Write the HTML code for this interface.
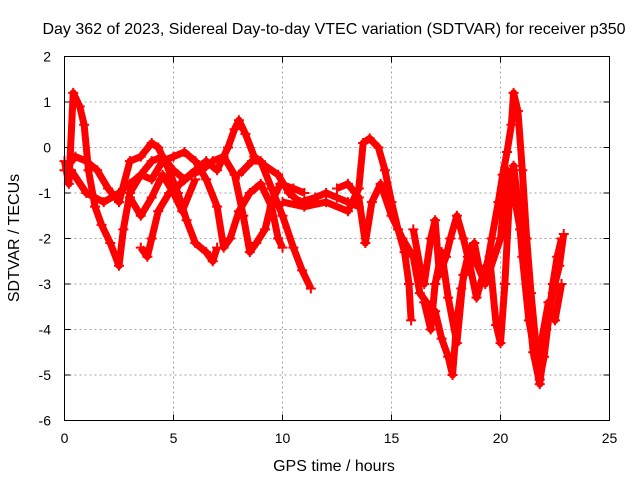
<!DOCTYPE html>
<html><head><meta charset="utf-8"><style>
body{margin:0;background:#fff;}
svg text{font-family:"Liberation Sans",sans-serif;font-size:14px;fill:#000;}
svg text.big{font-size:16px;}
</style></head><body>
<svg id="chart" width="640" height="480" xmlns="http://www.w3.org/2000/svg">
<text class="big" x="334" y="34" text-anchor="middle">Day 362 of 2023, Sidereal Day-to-day VTEC variation (SDTVAR) for receiver p350</text>
<text class="big" x="334" y="471" text-anchor="middle">GPS time / hours</text>
<text class="big" transform="translate(19,238) rotate(-90)" text-anchor="middle">SDTVAR / TECUs</text>
<g id="grid"></g>
<g id="ticks"></g>
<g id="series"></g>
<rect x="64.5" y="56.5" width="545" height="364" fill="none" stroke="#000" stroke-width="1"/>
</svg>
<script>
const xTicks=[0,5,10,15,20,25];
const yTicks=[2,1,0,-1,-2,-3,-4,-5,-6];
const trackA=[[0,-0.3],[0.2,-0.8],[0.4,1.2],[0.7,0.9],[0.9,0.5],[1.1,-0.5],[1.4,-1.3],[1.7,-1.7],[2.1,-2.1],[2.5,-2.6],[2.7,-1.8],[3.0,-1.0],[3.5,-0.6],[4.0,-0.3],[4.5,-0.2],[5.0,-0.5],[5.5,-0.7],[6.0,-0.5],[6.5,-0.3],[7.0,-0.5],[7.5,0.0],[7.8,0.4],[8.0,0.6],[8.3,0.3],[8.7,-0.2],[9.2,-0.4],[9.8,-0.6],[10.3,-1.0],[10.8,-1.2],[11.5,-1.1],[12.0,-1.0],[12.5,-1.1],[13.0,-1.2],[13.5,-1.3]];
const trackB=[[0,-0.5],[0.5,-0.2],[1.0,-0.3],[1.5,-0.5],[2.0,-0.9],[2.5,-1.2],[3.0,-0.3],[3.5,-0.2],[4.0,0.1],[4.3,0.0],[4.7,-0.4],[5.2,-1.0],[5.6,-1.6],[6.0,-2.1],[6.5,-2.3],[6.8,-2.5],[7.0,-2.2]];
const trackC=[[0.3,-0.5],[1.0,-1.0],[1.8,-1.2],[2.5,-1.0],[3.0,-0.8],[3.5,-0.6],[4.0,-0.7],[4.5,-0.3],[5.0,-0.2],[5.5,-0.1],[6.0,-0.3],[6.5,-0.7],[7.0,-1.3],[7.3,-2.2],[7.6,-2.0],[8.0,-1.4],[8.5,-1.0],[9.0,-0.8],[9.5,-1.3],[9.8,-2.0],[10.0,-2.2]];
const trackD=[[3.5,-2.2],[3.8,-2.4],[4.0,-2.0],[4.3,-1.4],[4.8,-1.0],[5.3,-0.8],[5.8,-0.6],[6.3,-0.5],[6.8,-0.3],[7.3,-0.2],[7.8,-0.6],[8.2,-1.5],[8.5,-2.3],[8.8,-2.1],[9.2,-1.8],[9.5,-1.2],[9.9,-0.8],[10.5,-0.9],[11.0,-1.0]];
const trackE=[[8.0,-0.6],[8.6,-0.3],[9.0,-0.3],[9.5,-0.9],[10.0,-1.5],[10.5,-2.2],[10.9,-2.7],[11.3,-3.1]];
const trackF=[[3.0,-1.1],[3.5,-1.5],[4.0,-1.1],[4.5,-0.6],[5.0,-1.0],[5.4,-1.4],[6.0,-0.7]];
const trackG=[[10.0,-1.2],[11,-1.3],[12,-1.2],[13,-1.4],[13.5,-0.9],[13.7,0.1],[14.0,0.2],[14.4,0.0],[14.7,-0.5],[15.0,-1.2],[15.3,-1.8],[15.6,-2.3],[15.8,-3.0],[15.9,-3.8]];
const trackH=[[12.5,-0.9],[13.0,-0.8],[13.5,-1.1],[13.8,-2.1],[14.1,-1.2],[14.5,-0.8],[15.0,-1.5],[15.5,-2.0],[16.0,-2.4],[16.3,-3.2],[16.6,-3.4],[17.0,-3.6],[17.3,-4.2],[17.6,-4.6],[17.8,-5.0],[18.0,-3.8],[18.2,-3.1],[18.5,-2.4],[18.8,-2.1],[19.0,-2.6],[19.3,-2.8],[19.6,-2.0],[19.9,-1.2],[20.1,-0.6],[20.3,-0.1],[20.5,0.5],[20.6,1.2],[20.8,0.8],[21.0,-0.5],[21.2,-2.0],[21.4,-3.2],[21.6,-4.2],[21.8,-5.1],[22.0,-4.6],[22.2,-3.8],[22.4,-3.0],[22.6,-2.4],[22.8,-2.0]];
const trackI=[[16.0,-1.8],[16.3,-2.6],[16.5,-3.0],[16.8,-2.0],[17.0,-1.6],[17.2,-2.8],[17.5,-2.4],[17.7,-2.0],[18.0,-1.5],[18.3,-2.0],[18.6,-2.6],[18.9,-3.3],[19.2,-2.8],[19.5,-2.4],[19.8,-3.9],[20.0,-4.3],[20.2,-3.0],[20.4,-1.2],[20.6,-0.4],[20.8,-1.2],[21.0,-2.4],[21.3,-3.8],[21.6,-4.6],[21.9,-4.2],[22.2,-3.4],[22.5,-3.8],[22.8,-3.0]];
const trackJ=[[16.5,-3.4],[16.8,-4.0],[17.0,-3.0],[17.3,-2.3],[17.6,-3.3],[18.0,-4.3],[18.3,-2.8],[18.6,-2.2],[19.3,-3.0],[20.0,-2.0],[20.3,-0.5],[20.6,-1.0],[20.9,-1.8],[21.2,-3.0],[21.5,-4.5],[21.8,-5.2],[22.1,-4.0],[22.4,-3.2],[22.7,-2.6],[22.9,-1.9]];
const tracks=[trackA,trackB,trackC,trackD,trackE,trackF,trackG,trackH,trackI,trackJ];

const X0=64.5,X1=609.5,Y0=420.5,Y1=56.5;
function sx(t){return X0+(t-0)/(25-0)*(X1-X0);}
function sy(v){return Y0-(v-(-6))/(2-(-6))*(Y0-Y1);}
const NS="http://www.w3.org/2000/svg";
function mk(tag,attrs,parent){const e=document.createElementNS(NS,tag);for(const k in attrs)e.setAttribute(k,attrs[k]);parent.appendChild(e);return e;}
const grid=document.getElementById('grid'),ticks=document.getElementById('ticks'),series=document.getElementById('series');
xTicks.forEach(t=>{
  const x=sx(t);
  if(t>0&&t<25){const g=mk('line',{x1:x,x2:x,y1:Y1,y2:Y0,stroke:'#a0a0a0','stroke-dasharray':'2,3'},grid);
  
  }
  mk('line',{x1:x,x2:x,y1:Y0,y2:Y0-6,stroke:'#000'},ticks);
  mk('line',{x1:x,x2:x,y1:Y1,y2:Y1+6,stroke:'#000'},ticks);
  const l=mk('text',{x:x,y:443,'text-anchor':'middle'},ticks);l.textContent=t;
  
  
});
yTicks.forEach(v=>{
  const y=sy(v);
  if(v>-6&&v<2){const g=mk('line',{x1:X0,x2:X1,y1:y,y2:y,stroke:'#a0a0a0','stroke-dasharray':'2,3'},grid);
  
  }
  mk('line',{x1:X0,x2:X0+6,y1:y,y2:y,stroke:'#000'},ticks);
  mk('line',{x1:X1,x2:X1-6,y1:y,y2:y,stroke:'#000'},ticks);
  const l=mk('text',{x:51,y:y+5,'text-anchor':'end'},ticks);l.textContent=v;
  
  
});
tracks.forEach(tr=>{
  const pl=mk('polyline',{points:tr.map(p=>sx(p[0])+','+sy(p[1])).join(' '),fill:'none',stroke:'#ff0000','stroke-width':7,'stroke-linejoin':'round'},series);
  
  
  tr.forEach(p=>{
    const x=sx(p[0]),y=sy(p[1]);
    const m=mk('path',{d:`M${x-5},${y}H${x+5}M${x},${y-5}V${y+5}`,stroke:'#ff0000','stroke-width':2},series);
    
    
  });
});
</script>
</body></html>
